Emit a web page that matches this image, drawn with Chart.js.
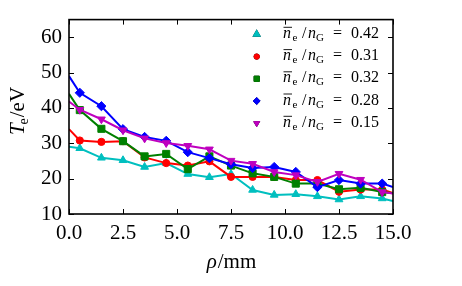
<!DOCTYPE html>
<html>
<head>
<meta charset="utf-8">
<script src="https://cdn.jsdelivr.net/npm/chart.js@4/dist/chart.umd.min.js"></script>
<style>
  html, body { margin: 0; padding: 0; background: #fff; }
  #wrap { width: 462px; height: 286px; }
</style>
</head>
<body>
<div id="wrap"><canvas id="chart" width="462" height="286"></canvas></div>
<script>
// radial positions (mm); the end points sit on the axes edges
const rho = [0, 0.5, 1.5, 2.5, 3.5, 4.5, 5.5, 6.5, 7.5, 8.5, 9.5, 10.5, 11.5, 12.5, 13.5, 14.5, 15];

// electron temperature (eV) for each density ratio
const te042 = [29.0, 28.6, 25.9, 25.2, 23.3, 24.4, 21.3, 20.4, 21.3, 16.8, 15.4, 15.6, 15.0, 14.1, 15.0, 14.4, 13.7];
const te031 = [34.0, 30.8, 30.4, 30.6, 26.0, 24.4, 23.7, 24.9, 20.5, 20.5, 20.5, 19.6, 19.6, 16.3, 16.9, 16.9, 15.9];
const te032 = [44.0, 39.4, 34.1, 30.6, 26.3, 27.0, 22.7, 26.3, 23.7, 21.5, 20.5, 18.6, 18.6, 17.0, 17.4, 16.2, 15.9];
const te028 = [49.0, 44.3, 40.5, 34.0, 31.8, 30.7, 27.5, 25.8, 24.1, 23.0, 23.3, 21.9, 17.6, 19.6, 18.6, 18.6, 17.6];
const te015 = [41.8, 39.5, 36.8, 33.7, 31.4, 30.1, 29.3, 28.3, 25.1, 24.2, 21.9, 21.0, 19.1, 21.4, 19.7, 16.2, 15.8];

const ratios = ['0.42', '0.31', '0.32', '0.28', '0.15'];
const xTicks = [0, 2.5, 5, 7.5, 10, 12.5, 15];
const yTicks = [10, 20, 30, 40, 50, 60];

const serif = '"Liberation Serif", "DejaVu Serif", serif';

// marker look for each series (matplotlib classic colours)
const styles = [
    { color: '#00bfbf', pointStyle: 'triangle', rotation: 0, radius: 4.5 },
    { color: '#ff0000', pointStyle: 'circle', rotation: 0, radius: 3.6 },
    { color: '#008000', pointStyle: 'rect', rotation: 0, radius: 5 },
    { color: '#0000ff', pointStyle: 'rectRot', rotation: 0, radius: 4.6 },
    { color: '#bf00bf', pointStyle: 'triangle', rotation: 180, radius: 4.5 }
];
const seriesData = [te042, te031, te032, te028, te015];

const datasets = seriesData.map((vals, i) => ({
    label: ratios[i],
    data: rho.map((x, j) => ({ x: x, y: vals[j] })),
    borderColor: styles[i].color,
    backgroundColor: styles[i].color,
    borderWidth: 2,
    pointStyle: styles[i].pointStyle,
    pointRotation: styles[i].rotation,
    pointRadius: ctx => (ctx.dataIndex === 0 || ctx.dataIndex === rho.length - 1) ? 0 : styles[i].radius,
    pointBorderWidth: 1,
    pointBorderColor: styles[i].color,
    pointBackgroundColor: styles[i].color,
    tension: 0,
    order: 5 - i
}));

// frame, inward ticks, axis titles and the legend
const decor = {
    id: 'decor',
    afterDraw(chart) {
        const ctx = chart.ctx;
        const a = chart.chartArea;
        const xs = chart.scales.x, ys = chart.scales.y;
        ctx.save();
        ctx.strokeStyle = '#000';
        ctx.lineWidth = 1;
        ctx.beginPath();
        xTicks.forEach(v => {
            const px = Math.round(xs.getPixelForValue(v)) + 0.5;
            ctx.moveTo(px, a.bottom); ctx.lineTo(px, a.bottom - 5);
            ctx.moveTo(px, a.top); ctx.lineTo(px, a.top + 5);
        });
        yTicks.forEach(v => {
            const py = Math.round(ys.getPixelForValue(v)) + 0.5;
            ctx.moveTo(a.left, py); ctx.lineTo(a.left + 5, py);
            ctx.moveTo(a.right, py); ctx.lineTo(a.right - 5, py);
        });
        ctx.stroke();
        ctx.lineWidth = 1.6;
        ctx.strokeRect(a.left, a.top, a.right - a.left, a.bottom - a.top);

        ctx.fillStyle = '#000';
        ctx.textBaseline = 'alphabetic';

        // x title: rho/mm
        ctx.textAlign = 'left';
        ctx.font = 'italic 21px ' + serif;
        const wRho = ctx.measureText('ρ').width;
        ctx.font = '21px ' + serif;
        const wMm = ctx.measureText('/mm').width;
        let x0 = (a.left + a.right) / 2 - (wRho + wMm) / 2;
        ctx.font = 'italic 21px ' + serif;
        ctx.fillText('ρ', x0, 268);
        ctx.font = '21px ' + serif;
        ctx.fillText('/mm', x0 + wRho + 1, 268);

        // y title: T_e/eV, rotated
        ctx.save();
        ctx.translate(24, 111);
        ctx.rotate(-Math.PI / 2);
        ctx.font = 'italic 21px ' + serif;
        const wT = ctx.measureText('T').width;
        ctx.font = '14px ' + serif;
        const wE = ctx.measureText('e').width;
        ctx.font = '21px ' + serif;
        const wRest = ctx.measureText('/eV').width;
        let s = -(wT + wE + wRest) / 2;
        ctx.font = 'italic 21px ' + serif;
        ctx.fillText('T', s, 0);
        ctx.font = '14px ' + serif;
        ctx.fillText('e', s + wT - 1, 4);
        ctx.font = '21px ' + serif;
        ctx.fillText('/eV', s + wT + wE, 0);
        ctx.restore();

        // legend
        const rowY = [34.3, 56.6, 78.8, 101.0, 123.3];
        ratios.forEach((r, i) => {
            const cy = rowY[i];
            const st = styles[i];
            Chart.helpers.drawPoint(ctx, {
                pointStyle: st.pointStyle,
                rotation: st.rotation,
                radius: st.radius * 0.75,
                borderWidth: 1
            }, 256.7, cy);
            ctx.fillStyle = st.color;
            ctx.strokeStyle = st.color;
            ctx.fill();
            ctx.stroke();

            ctx.fillStyle = '#000';
            ctx.strokeStyle = '#000';
            const base = cy + 3.5;
            const tx = 283;
            ctx.font = 'italic 16px ' + serif;
            ctx.fillText('n', tx, base);
            ctx.lineWidth = 0.9;
            ctx.beginPath();
            ctx.moveTo(tx + 0.5, base - 10.5);
            ctx.lineTo(tx + 9, base - 10.5);
            ctx.stroke();
            ctx.font = '11px ' + serif;
            ctx.fillText('e', tx + 9.5, base + 3);
            ctx.font = '16px ' + serif;
            ctx.fillText('/', tx + 19, base);
            ctx.font = 'italic 16px ' + serif;
            ctx.fillText('n', tx + 25, base);
            ctx.font = '11px ' + serif;
            ctx.fillText('G', tx + 33, base + 3);
            ctx.font = '16px ' + serif;
            ctx.fillText('=', tx + 50, base);
            ctx.fillText(r, tx + 68, base);
        });
        ctx.restore();
    }
};

new Chart(document.getElementById('chart'), {
    type: 'line',
    data: { datasets: datasets },
    options: {
        responsive: false,
        animation: false,
        devicePixelRatio: 1,
        layout: { padding: { left: 0, right: 69, top: 14, bottom: 0 } },
        plugins: { legend: { display: false }, tooltip: { enabled: false } },
        scales: {
            x: {
                type: 'linear',
                min: 0,
                max: 15,
                afterBuildTicks: sc => { sc.ticks = xTicks.map(v => ({ value: v })); },
                afterFit: sc => { sc.height = 72; },
                grid: { display: false, drawTicks: false },
                border: { display: false },
                ticks: {
                    color: '#000',
                    padding: 7,
                    maxRotation: 0,
                    font: { family: serif, size: 21 },
                    callback: v => v.toFixed(1)
                }
            },
            y: {
                type: 'linear',
                min: 10,
                max: 65,
                afterBuildTicks: sc => { sc.ticks = yTicks.map(v => ({ value: v })); },
                afterFit: sc => { sc.width = 69; },
                grid: { display: false, drawTicks: false },
                border: { display: false },
                ticks: {
                    color: '#000',
                    padding: 7,
                    font: { family: serif, size: 21 },
                    callback: v => String(v)
                }
            }
        }
    },
    plugins: [decor]
});
</script>
</body>
</html>
